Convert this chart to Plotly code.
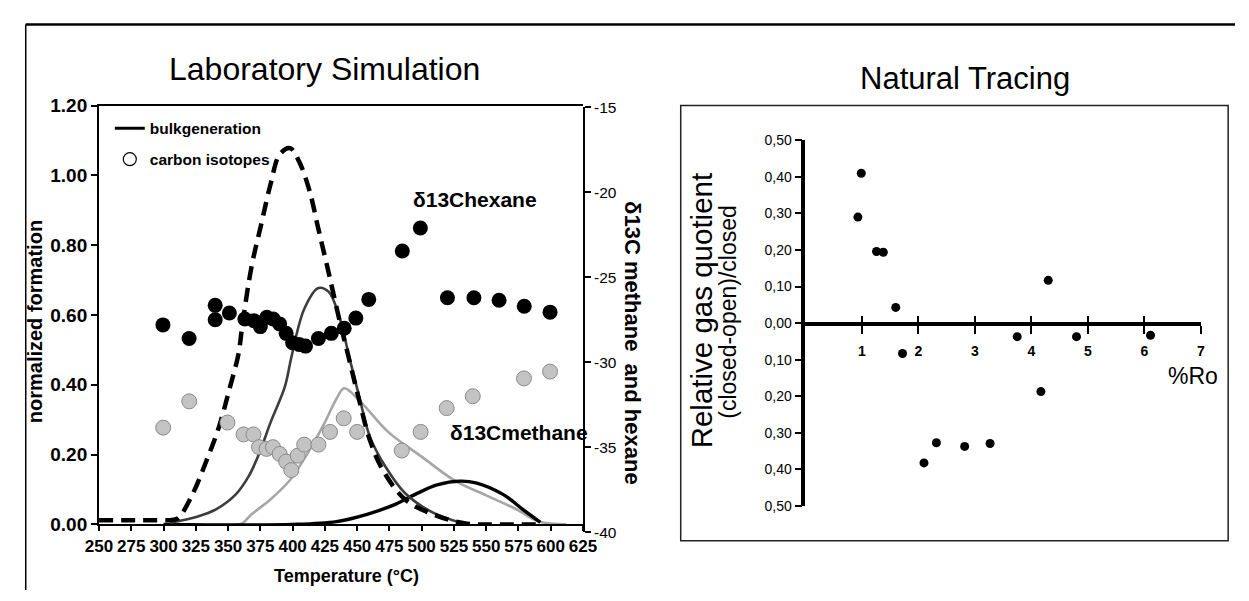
import plotly.graph_objects as go

W, H = 1249, 601
FONT = "Liberation Sans, Arial, sans-serif"

# ---- Laboratory simulation: bulk generation curves (normalized formation) ----
t_total = [250, 300, 305, 311, 322, 333, 343, 351, 358, 361, 368, 376, 383, 390, 398,
           405, 413, 420, 428, 436, 444, 452, 460, 470, 487, 508, 533, 560, 590]
v_total = [0.012, 0.012, 0.012, 0.017, 0.083, 0.18, 0.28, 0.387, 0.487, 0.57, 0.735, 0.865,
           0.976, 1.06, 1.078, 1.04, 0.957, 0.846, 0.72, 0.59, 0.47, 0.35, 0.24, 0.155,
           0.072, 0.03, 0.003, 0.0, 0.0]

t_hexane = [305, 326, 341, 356, 366, 374, 383, 394, 399, 409, 420, 428, 436, 444,
            452, 460, 472, 487, 508, 530]
v_hexane = [0.005, 0.022, 0.044, 0.086, 0.138, 0.202, 0.293, 0.395, 0.478, 0.617, 0.677,
            0.666, 0.597, 0.478, 0.36, 0.25, 0.165, 0.09, 0.035, 0.005]

t_methane = [355, 361, 368, 383, 398, 411, 424, 434, 440, 452, 474, 500, 525, 550, 573,
             591, 612]
v_methane = [0.0, 0.003, 0.028, 0.072, 0.127, 0.2, 0.285, 0.36, 0.39, 0.354, 0.265, 0.194,
             0.127, 0.083, 0.044, 0.008, 0.0]

t_late = [300, 400, 434, 457, 480, 495, 512, 530, 542, 563, 578, 592]
v_late = [0.0, 0.0, 0.008, 0.028, 0.058, 0.086, 0.113, 0.124, 0.119, 0.086, 0.044, 0.006]

# ---- carbon isotopes (permil) ----
t_d13_hexane = [299.5, 319.8, 340, 340, 351, 363, 370, 375, 380, 385, 390, 395, 400, 405,
                410, 420, 430, 440, 449, 459, 485, 499, 520, 540.5, 560, 579.5, 599.5]
d13_hexane = [-27.8, -28.6, -26.65, -27.5, -27.1, -27.45, -27.55, -27.9, -27.35, -27.45,
              -27.75, -28.3, -28.85, -28.95, -29.05, -28.6, -28.3, -28.0, -27.4, -26.3,
              -23.45, -22.1, -26.2, -26.2, -26.35, -26.7, -27.05]

t_d13_methane = [299.7, 319.9, 349.5, 362, 369.7, 374, 379.8, 384.8, 390, 395, 399, 404,
                 409, 420, 429, 439.6, 450, 484.6, 499.2, 519.4, 539.6, 579.3, 599.5]
d13_methane = [-33.85, -32.3, -33.55, -34.25, -34.25, -35.0, -35.1, -35.0, -35.4, -35.85,
               -36.35, -35.5, -34.85, -34.85, -34.1, -33.3, -34.1, -35.2, -34.1, -32.7,
               -32.0, -30.95, -30.55]

temp_ticks = list(range(250, 626, 25))
norm_ticks = [0.0, 0.2, 0.4, 0.6, 0.8, 1.0, 1.2]
d13_ticks = [-40, -35, -30, -25, -20, -15]
d13_ticktext = ["-40", "-35", "-30", "-25", "-20", "-15"]

# ---- Natural tracing ----
ro = [0.93, 0.99, 1.26, 1.38, 1.60, 1.72, 2.10, 2.32, 2.82, 3.27, 3.75, 4.17, 4.30, 4.80, 6.11]
quotient = [0.29, 0.41, 0.196, 0.194, 0.043, -0.083, -0.382, -0.327, -0.337, -0.329,
            -0.037, -0.187, 0.117, -0.037, -0.033]
ro_ticks = [1, 2, 3, 4, 5, 6, 7]
q_ticks = [-0.5, -0.4, -0.3, -0.2, -0.1, 0.0, 0.1, 0.2, 0.3, 0.4, 0.5]
q_ticktext = ["0,50", "0,40", "0,30", "0,20", "0,10", "0,00", "0,10", "0,20", "0,30",
              "0,40", "0,50"]


def px(x):
    return x / W


def py(y):
    return 1 - y / H


fig = go.Figure()

# isotope points (right axis)
fig.add_trace(go.Scatter(x=t_d13_methane, y=d13_methane, xaxis="x", yaxis="y2", mode="markers",
                         marker=dict(size=15, color="#c3c3c3", line=dict(color="#8a8a8a", width=1)),
                         showlegend=False, cliponaxis=False))
fig.add_trace(go.Scatter(x=t_d13_hexane, y=d13_hexane, xaxis="x", yaxis="y2", mode="markers",
                         marker=dict(size=15, color="black"), showlegend=False, cliponaxis=False))

# generation curves
fig.add_trace(go.Scatter(x=t_methane, y=v_methane, mode="lines", line_shape="spline",
                         line=dict(color="#a6a6a6", width=2.6), showlegend=False))
fig.add_trace(go.Scatter(x=t_late, y=v_late, mode="lines", line_shape="spline",
                         line=dict(color="black", width=3.4), showlegend=False))
fig.add_trace(go.Scatter(x=t_hexane, y=v_hexane, mode="lines", line_shape="spline",
                         line=dict(color="#3d3d3d", width=2.6), showlegend=False))
fig.add_trace(go.Scatter(x=t_total, y=v_total, mode="lines", line_shape="spline",
                         line=dict(color="black", width=4.5, dash="14px,8px"), showlegend=False))

# legend entries
fig.add_trace(go.Scatter(x=[None], y=[None], mode="lines", name="bulkgeneration",
                         line=dict(color="black", width=3), legend="legend"))
fig.add_trace(go.Scatter(x=[None], y=[None], mode="markers", name="carbon isotopes",
                         marker=dict(symbol="circle-open", size=13, color="black",
                                     line=dict(width=1.2)), legend="legend2"))

# natural tracing scatter
fig.add_trace(go.Scatter(x=ro, y=quotient, xaxis="x3", yaxis="y3", mode="markers",
                         marker=dict(size=9, color="black"), showlegend=False))
# trace on the overlaid tick axis so it is rendered
fig.add_trace(go.Scatter(x=[None], y=[None], xaxis="x4", yaxis="y3", showlegend=False))

axis_common = dict(showgrid=False, zeroline=False, linecolor="black", tickcolor="black")
Y0_RO = 325  # pixel row of the zero line in the natural tracing panel

fig.update_layout(
    width=W, height=H, margin=dict(l=0, r=0, t=0, b=0),
    paper_bgcolor="white", plot_bgcolor="rgba(0,0,0,0)",
    font=dict(family=FONT, color="black"),
    xaxis=dict(domain=[px(87), px(582)], range=[250, 625], tickvals=temp_ticks,
               ticks="outside", ticklen=5, tickwidth=1.5, showline=True, linewidth=2,
               mirror=True, anchor="y",
               tickfont=dict(size=17, family=FONT, weight="bold"), **axis_common),
    yaxis=dict(domain=[py(533), py(99)], range=[0, 1.2], tickvals=norm_ticks,
               tickformat=".2f", ticks="outside", ticklen=6, tickwidth=1.5,
               showline=True, linewidth=2, anchor="x",
               tickfont=dict(size=19, family=FONT, weight="bold"), **axis_common),
    yaxis2=dict(domain=[py(541), py(101)], range=[-40, -15], tickvals=d13_ticks,
                ticktext=d13_ticktext,
                ticks="outside", ticklen=6, tickwidth=1.5, showline=True, linewidth=2,
                side="right", anchor="x",
                tickfont=dict(size=15.5, family=FONT), **axis_common),
    xaxis3=dict(domain=[px(809.5), px(1214)], range=[0, 7], tickvals=ro_ticks,
                ticks="outside", ticklen=8, tickwidth=1.5, showline=True, linewidth=4,
                anchor="free", position=py(Y0_RO), ticklabelstandoff=6,
                tickfont=dict(size=14, family=FONT, weight="bold"), **axis_common),
    xaxis4=dict(overlaying="x3", range=[0, 7], tickvals=ro_ticks, showticklabels=False,
                ticks="inside", ticklen=8, tickwidth=1.5, showline=False,
                anchor="free", position=py(Y0_RO), **axis_common),
    yaxis3=dict(domain=[py(514), py(135)], range=[-0.5, 0.5], tickvals=q_ticks,
                ticktext=q_ticktext, ticks="outside", ticklen=7, tickwidth=1.5,
                showline=True, linewidth=3.5, anchor="x3",
                tickfont=dict(size=14, family=FONT), **axis_common),
    legend=dict(x=px(98), y=py(123), xanchor="left", yanchor="middle",
                bgcolor="rgba(0,0,0,0)", font=dict(size=15.5, family=FONT, weight="bold")),
    legend2=dict(x=px(98), y=py(155), xanchor="left", yanchor="middle",
                 bgcolor="rgba(0,0,0,0)", font=dict(size=15.5, family=FONT, weight="bold")),
)

ann = [
    dict(text="Laboratory Simulation", x=px(318), y=py(61), font=dict(size=32)),
    dict(text="Natural Tracing", x=px(973), y=py(71), font=dict(size=31)),
    dict(text="<b>normalized formation</b>", x=px(21), y=py(323), textangle=-90,
         font=dict(size=20)),
    dict(text="<b>δ13C methane\u00a0 and hexane</b>", x=px(632), y=py(345), textangle=90,
         font=dict(size=22)),
    dict(text="<b>δ13Chexane</b>", x=px(472), y=py(196), font=dict(size=21)),
    dict(text="<b>δ13Cmethane</b>", x=px(517), y=py(438), font=dict(size=21)),
    dict(text="<b>Temperature (°C)</b>", x=px(340), y=py(587), font=dict(size=18)),
    dict(text="%Ro", x=px(1206), y=py(379), font=dict(size=23)),
    dict(text="Relative gas quotient", x=px(703), y=py(311), textangle=-90,
         font=dict(size=29.5)),
    dict(text="(closed-open)/closed", x=px(730), y=py(313), textangle=-90,
         font=dict(size=23)),
]
for a in ann:
    fig.add_annotation(xref="paper", yref="paper", showarrow=False, xanchor="center",
                       yanchor="middle", **a)

# outer frame (top and left edges) and the natural-tracing panel box
fig.add_shape(type="line", xref="paper", yref="paper", x0=px(12), x1=1, y0=py(15), y1=py(15),
              line=dict(color="black", width=2.5))
fig.add_shape(type="line", xref="paper", yref="paper", x0=px(12), x1=px(12), y0=py(15), y1=0,
              line=dict(color="black", width=1.5))
fig.add_shape(type="rect", xref="paper", yref="paper", x0=px(682), x1=px(1242), y0=py(99),
              y1=py(550), line=dict(color="#222222", width=1.5))

fig.write_html("out.html")
